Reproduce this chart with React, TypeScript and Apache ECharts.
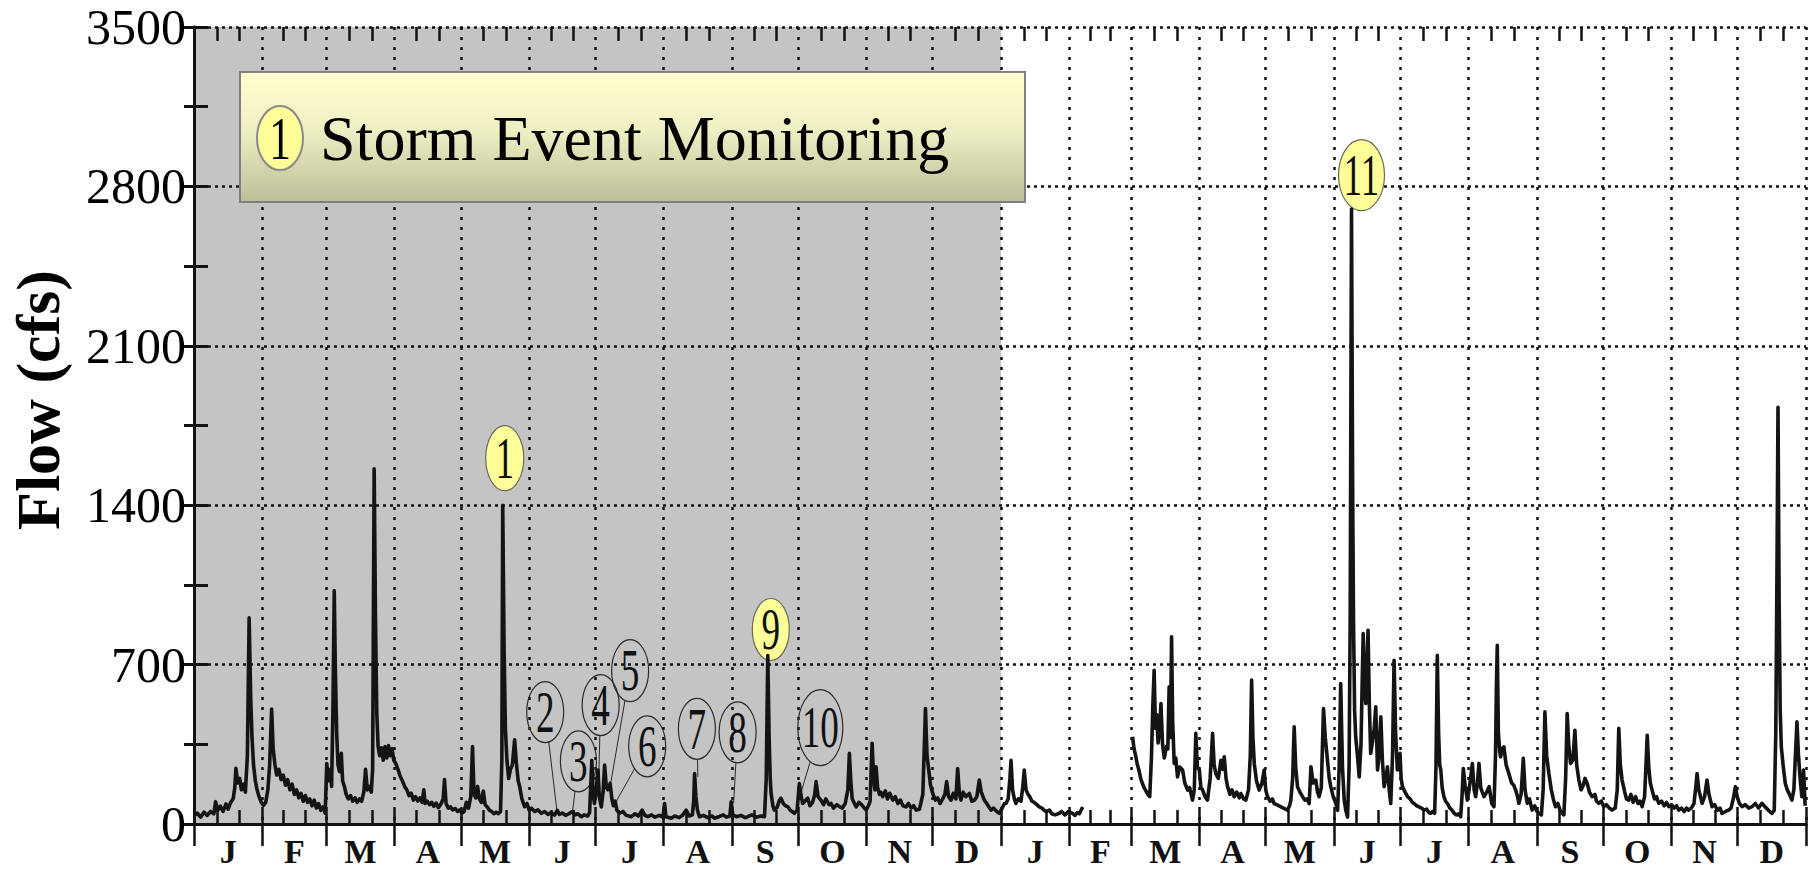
import React, { useEffect, useRef } from "react";
import * as echarts from "echarts";

// Daily flow record (day number from 1 January of the first year, flow in cfs)
const yearOneFlow: [number, number][] = [
  [0, 35], [1.5, 48], [3, 30], [4.5, 52], [6, 38], [7.5, 55], [9, 45], [9.8, 98], [10.8, 60], [12, 78],
  [13.2, 55], [14.5, 88], [15.5, 65], [16.5, 92], [17.8, 112], [18.5, 160], [19, 245], [19.8, 180], [20.7, 200],
  [21.5, 150], [22.5, 175], [23.3, 140], [24.2, 300], [25, 905], [25.7, 560], [26.3, 380], [27, 260], [27.8, 190],
  [28.6, 150], [29.5, 120], [30.5, 95], [31.5, 82], [32.5, 95], [33.5, 150], [34.3, 260], [35.2, 505], [35.9, 330],
  [36.7, 260], [37.5, 215], [38.5, 240], [39.5, 195], [40.5, 215], [41.5, 170], [42.5, 195], [43.5, 150], [44.5, 175],
  [45.5, 130], [46.5, 150], [47.5, 115], [48.5, 135], [49.5, 100], [50.5, 125], [51.5, 95], [52.5, 110], [53.5, 80],
  [54.5, 105], [55.5, 70], [56.5, 90], [57.5, 60], [58.5, 75], [59.5, 48], [60.2, 265], [61, 190], [61.8, 240],
  [62.4, 165], [63, 500], [63.6, 1025], [64.1, 680], [64.7, 400], [65.3, 260], [66, 230], [66.8, 310], [67.4, 190],
  [68.2, 165], [69, 130], [70, 110], [71, 125], [72, 100], [73, 115], [74, 95], [75, 110], [76, 100], [77, 140],
  [77.8, 240], [78.6, 150], [79.5, 165], [80.4, 140], [81, 240], [81.7, 1560], [82.3, 900], [82.9, 480], [83.5, 340],
  [84.2, 300], [85, 335], [85.8, 280], [86.6, 340], [87.4, 290], [88.2, 345], [89, 300], [89.8, 330], [90.6, 280],
  [91.5, 265], [92.5, 240], [93.5, 210], [94.5, 190], [95.5, 165], [96.5, 150], [97.5, 125], [98.5, 135], [99.5, 105],
  [100.5, 120], [101.5, 100], [102.5, 115], [103.5, 95], [104.2, 150], [104.8, 90], [105.8, 100], [106.8, 85],
  [107.8, 95], [108.8, 78], [109.8, 92], [110.8, 72], [111.8, 85], [113, 110], [113.6, 195], [114.3, 90], [115.3, 70],
  [116.3, 75], [117.3, 62], [118.5, 68], [119.5, 55], [120.5, 62], [121.5, 48], [122.5, 55], [123.5, 95], [124.5, 70],
  [125.5, 120], [126.3, 340], [127, 130], [127.8, 115], [128.6, 165], [129.4, 110], [130.3, 95], [131.2, 145],
  [132, 85], [133, 75], [134, 60], [135, 55], [136, 45], [137, 52], [138, 45], [139, 55], [139.6, 280], [140, 1400],
  [140.6, 780], [141.2, 420], [141.9, 280], [142.7, 200], [143.5, 240], [144.4, 260], [145.4, 370], [146.2, 266],
  [147, 190], [147.7, 164], [148.7, 110], [149.9, 76], [151, 90], [152, 61], [153, 70], [154.5, 55], [156, 62],
  [157.5, 47], [159, 55], [160.5, 42], [162, 50], [163.5, 39], [164.7, 60], [165.7, 42], [167, 48], [168.5, 38],
  [170, 45], [171.6, 55], [172.8, 40], [174, 45], [175.6, 32], [177, 40], [178.5, 35], [179.4, 50], [180.4, 280],
  [181, 130], [181.6, 90], [182.4, 150], [183.2, 237], [183.8, 120], [184.7, 75], [185.5, 140], [186.2, 259],
  [187, 160], [187.7, 150], [188.7, 178], [189.5, 110], [190.2, 80], [191, 100], [191.8, 60], [193, 47], [194.5, 55],
  [196, 38], [198.3, 32], [200, 45], [201.5, 35], [203.2, 61], [204.5, 38], [205.8, 32], [207.5, 40], [209, 30],
  [211, 38], [212.7, 30], [213.4, 90], [214, 32], [216.4, 25], [218, 35], [220, 28], [221.5, 38], [223.2, 61],
  [224.5, 35], [226, 40], [226.6, 100], [227, 222], [227.6, 120], [228.3, 60], [229.2, 32], [231, 38], [233, 28],
  [235, 35], [236, 25], [238, 32], [240, 40], [241.5, 30], [243, 35], [243.6, 98], [244.3, 40], [246, 32], [248, 38],
  [250, 28], [251.1, 32], [253, 40], [255, 30], [257, 35], [258.7, 32], [259.5, 200], [260.2, 740], [260.8, 380],
  [261.3, 200], [261.7, 134], [262.5, 80], [263.2, 61], [264.5, 75], [265.5, 105], [266.2, 113], [267.2, 90],
  [268.2, 80], [269.2, 76], [270.5, 60], [272.3, 47], [273.5, 60], [274.5, 178], [275.2, 130], [276, 90], [277, 100],
  [278.3, 113], [279.3, 80], [280.5, 95], [281.5, 130], [282.1, 186], [283, 120], [284.3, 105], [285.5, 85],
  [286.5, 110], [288, 85], [288.9, 90], [290, 70], [291.5, 85], [292.7, 76], [294, 70], [295.3, 90], [296.5, 150],
  [297.2, 310], [297.9, 180], [298.5, 110], [299.5, 90], [300.3, 75], [301.5, 95], [302.7, 85], [304, 70],
  [304.8, 61], [305.8, 80], [306.6, 100], [307.5, 354], [308.2, 200], [308.8, 150], [309.3, 251], [310, 160],
  [310.8, 130], [311.5, 140], [312.3, 120], [313.5, 145], [314.5, 110], [315.5, 135], [316.9, 105], [318, 120],
  [319.2, 90], [320.3, 105], [321.5, 80], [322.9, 75], [324, 90], [325.2, 70], [326.3, 80], [327.5, 61], [329, 65],
  [330.5, 130], [331.7, 507], [332.4, 300], [333.2, 237], [334, 170], [335, 134], [336.2, 105], [337.2, 115],
  [338.3, 90], [339.5, 110], [340.5, 130], [341.3, 186], [342.2, 120], [343.3, 105], [344.3, 135], [345.5, 110],
  [346.3, 244], [347.1, 130], [347.8, 105], [348.8, 140], [350, 120], [351.6, 134], [352.7, 100], [353.9, 105],
  [355, 120], [356.1, 193], [357, 140], [358.4, 105], [359.5, 90], [360.5, 75], [361.4, 61], [362.5, 70], [364, 55],
  [365.2, 47],
];

// Second year; the gauge record is missing for most of February
const yearTwoFlow: [number, number | string][] = [
  [366.5, 70], [367.5, 90], [368.2, 90], [369.2, 110], [370, 200], [370.5, 280], [371.2, 150], [372, 110],
  [372.7, 90], [373.8, 110], [375, 100], [375.8, 160], [376.5, 237], [377.3, 150], [378.2, 130], [379, 120],
  [380, 100], [381, 95], [382.2, 85], [383.3, 75], [384.5, 70], [385.5, 60], [386.7, 55], [387.9, 61], [389, 45],
  [390.5, 40], [392.4, 47], [393.5, 55], [395, 40], [396.5, 55], [398.4, 47], [399.5, 38], [400.5, 50], [401.5, 45],
  [403, 75], [414, "-"],
  [425.6, 383], [426.3, 330], [427, 300], [427.8, 260], [428.5, 237], [429.3, 200], [430, 180], [430.8, 160],
  [431.5, 149], [432.5, 130], [433.4, 120], [434.2, 300], [434.8, 520], [435.4, 675], [436, 420], [436.6, 480],
  [437.2, 356], [437.9, 420], [438.5, 529], [439.2, 350], [440, 290], [441, 340], [441.6, 330], [442.2, 602],
  [442.8, 380], [443.3, 822], [443.8, 450], [444.5, 266], [445.2, 290], [446, 207], [447, 250], [448.3, 237],
  [449.3, 180], [450.6, 149], [451.5, 160], [452.8, 105], [453.6, 150], [454.3, 398], [455, 250], [455.9, 237],
  [456.6, 160], [457.4, 149], [458.5, 120], [459.6, 105], [460.8, 200], [461.9, 398], [462.6, 260], [463.4, 220],
  [464.5, 200], [465.7, 280], [466.5, 240], [467.2, 295], [468, 200], [468.7, 164], [469.8, 130], [470.7, 150],
  [471.7, 120], [472.8, 140], [474, 115], [474.7, 134], [476, 110], [477, 105], [478.2, 150], [479, 300],
  [479.6, 632], [480.2, 380], [480.8, 266], [481.8, 190], [483, 149], [484.3, 180], [485.3, 237], [486, 150],
  [486.8, 120], [488, 100], [489, 110], [489.8, 90], [491, 85], [492, 80], [492.9, 75], [494, 70], [495, 65],
  [495.9, 61], [496.8, 80], [497.4, 105], [498.2, 200], [498.9, 427], [499.6, 250], [500.4, 164], [501.5, 140],
  [502.7, 120], [503.8, 105], [504.7, 110], [505.7, 90], [506.5, 251], [507.5, 180], [508.7, 193], [509.5, 140],
  [510.2, 120], [511.2, 160], [512.2, 507], [513, 380], [514, 280], [514.8, 200], [515.5, 164], [516.6, 120],
  [517.8, 90], [518.6, 60], [519.3, 250], [520, 617], [520.8, 250], [521.6, 105], [522.3, 60], [523.1, 30],
  [523.8, 250], [524.3, 900], [524.9, 2700], [525.4, 1500], [525.8, 900], [526.3, 500], [526.8, 383], [527.6, 300],
  [528.4, 207], [529.2, 350], [529.7, 600], [530.2, 836], [530.8, 600], [531.4, 529], [531.9, 700], [532.4, 851],
  [533, 520], [533.6, 310], [534.4, 360], [535.2, 420], [535.9, 515], [536.7, 237], [537.4, 300], [538.2, 471],
  [538.9, 280], [539.7, 164], [540.5, 200], [541.2, 251], [542, 150], [542.7, 90], [543.5, 300], [544.2, 719],
  [544.9, 400], [545.7, 237], [546.3, 260], [546.9, 310], [547.4, 200], [548, 164], [549.2, 140], [550.3, 120],
  [551.5, 110], [552.5, 95], [553.3, 90], [554.5, 80], [555.5, 75], [556.7, 70], [557.8, 61], [559, 65], [560, 50],
  [560.8, 47], [561.8, 55], [562.6, 47], [563.2, 250], [563.8, 741], [564.4, 400], [564.9, 260], [565.4, 237],
  [566, 160], [566.8, 120], [567.6, 100], [568.4, 90], [569.5, 70], [570.5, 60], [571.4, 47], [572.5, 40],
  [573.5, 45], [574.4, 32], [575, 120], [575.6, 244], [576.4, 170], [577.4, 105], [578.2, 150], [578.9, 200],
  [579.7, 266], [580.5, 150], [581.2, 120], [582, 180], [582.7, 266], [583.5, 160], [584.2, 140], [585, 120],
  [586.2, 140], [587.3, 164], [588.5, 90], [589.5, 76], [590.2, 300], [590.6, 600], [591, 785], [591.5, 400],
  [592.1, 320], [592.5, 295], [593.2, 330], [594, 339], [595, 260], [596.3, 220], [597.5, 180], [598.5, 170],
  [599.3, 150], [600.2, 120], [600.8, 91], [601.8, 130], [602.8, 288], [603.6, 150], [604.6, 91], [605.6, 110],
  [606.8, 61], [608, 80], [609, 55], [609.9, 47], [611, 40], [611.8, 150], [612.6, 493], [613.4, 300], [614.4, 222],
  [615.5, 150], [616.4, 110], [617.4, 76], [618.5, 90], [619.5, 60], [620.4, 47], [621.2, 40], [622, 200],
  [622.7, 485], [623.4, 350], [624.2, 266], [625.3, 280], [626.2, 412], [627, 260], [628, 193], [629, 150],
  [630, 170], [630.8, 200], [631.8, 178], [632.8, 140], [634, 120], [635.3, 130], [636, 100], [637, 91],
  [638.2, 100], [639.3, 76], [640.5, 85], [641.8, 70], [643.1, 61], [644.5, 70], [645.4, 150], [646.1, 420],
  [646.8, 260], [647.6, 193], [648.8, 140], [649.6, 110], [650.6, 105], [651.6, 130], [652.6, 95], [653.7, 120],
  [654.8, 90], [655.7, 100], [656.7, 76], [657.8, 120], [658.4, 250], [659, 390], [659.7, 250], [660.4, 180],
  [661.2, 149], [662.3, 110], [663.2, 120], [664.2, 91], [665.5, 100], [666.7, 80], [667.8, 95], [668.8, 76],
  [670, 85], [671.2, 70], [672.3, 80], [673.3, 61], [674.5, 70], [675.8, 55], [676.8, 70], [677.8, 61], [679, 70],
  [680.2, 90], [681, 160], [681.6, 222], [682.4, 150], [683.9, 91], [685, 120], [686.1, 193], [687, 130],
  [688.4, 76], [689.6, 85], [690.8, 60], [692, 70], [692.9, 47], [694.5, 55], [695.9, 61], [697, 70], [698, 110],
  [699, 164], [699.8, 120], [700.8, 90], [702, 76], [703.5, 85], [705, 70], [706.5, 76], [708, 90], [709.5, 70],
  [711, 91], [712.5, 75], [714, 60], [715.6, 47], [716.6, 60], [717.3, 400], [717.9, 1200], [718.3, 1830],
  [718.8, 1000], [719.3, 500], [719.8, 339], [720.6, 260], [721.6, 178], [722.5, 150], [723.5, 130], [724.6, 105],
  [725.5, 150], [726.2, 300], [726.9, 449], [727.6, 300], [728.4, 193], [729.1, 120], [729.9, 237], [730.6, 80],
];

// Calendar: first year is a leap year
const monthLetters = ["J", "F", "M", "A", "M", "J", "J", "A", "S", "O", "N", "D"];
const monthDays = [31, 29, 31, 30, 31, 30, 31, 31, 30, 31, 30, 31, 31, 28, 31, 30, 31, 30, 31, 31, 30, 31, 30, 31];
const totalDays = 731;
const firstYearDays = 366;

// Y axis
const flowMax = 3500;
const flowStep = 700;

// Numbered storm events: the day and flow they point at
const eventIds = ["1", "2", "3", "4", "5", "6", "7", "8", "9", "10", "11"];
const eventDay = [140, 164.7, 171.6, 183.5, 188.7, 191, 228.5, 244.7, 260.2, 275.4, 524.9];
const eventFlow = [1400, 48, 47, 193, 164, 91, 207, 91, 740, 142, 2700];
const eventMonitored = [true, false, false, false, false, false, false, false, true, false, true];

// Bubble placement relative to the event point (px) and bubble size (px)
const bubbleOffset = [
  [2, -47], [-12, -101], [6, -52], [2, -75], [20, -116], [32, -57], [-1, -48], [4, -71], [3, -26], [19, -64], [10, -34],
];
const bubbleSize = [
  [38, 65], [37, 61], [36, 61], [37, 61], [37, 62], [37, 61], [37, 61], [37, 61], [37, 62], [45, 76], [46, 71],
];

const SERIF = "'Liberation Serif', 'Times New Roman', serif";

function monthGeometry() {
  const bounds: number[] = [0];
  const centers: number[] = [];
  const thirds: number[] = [];
  let acc = 0;
  monthDays.forEach((len) => {
    centers.push(acc + len / 2);
    thirds.push(acc + len / 3, acc + (2 * len) / 3);
    acc += len;
    bounds.push(acc);
  });
  return { bounds, centers, thirds };
}

export default function App() {
  const ref = useRef<HTMLDivElement>(null);

  useEffect(() => {
    if (!ref.current) return;
    const chart = echarts.init(ref.current, undefined, { renderer: "svg" });
    const { bounds, centers, thirds } = monthGeometry();
    const allTicks = [...bounds, ...thirds].sort((a, b) => a - b);
    const letterFor = (v: number) => {
      const i = centers.findIndex((c) => Math.abs(c - v) < 0.01);
      return i >= 0 ? monthLetters[i % 12] : "";
    };

    const axisLine = { show: true, lineStyle: { color: "#111", width: 3 } };
    const dotted = { color: "#111", width: 2.5 };

    const option: any = {
      animation: false,
      backgroundColor: "#fff",
      grid: { left: 194, right: 10, top: 27, bottom: 48, containLabel: false },
      xAxis: [
        {
          type: "value", min: 0, max: totalDays, position: "bottom",
          axisLine,
          axisTick: { show: true, inside: true, length: 14, customValues: allTicks, lineStyle: { color: "#111", width: 2.5 } },
          axisLabel: {
            show: true, customValues: centers, formatter: (v: number) => letterFor(v),
            fontFamily: SERIF, fontWeight: "bold", fontSize: 34, color: "#111", margin: 10,
          },
          splitLine: { show: false },
        },
        {
          type: "value", min: 0, max: totalDays, position: "top",
          axisLine,
          axisTick: { show: true, inside: true, length: 22, customValues: bounds, lineStyle: { color: "#111", width: 2.5 } },
          axisLabel: { show: false },
          splitLine: { show: true, lineStyle: { ...dotted, type: [3, 7] } },
        },
        {
          type: "value", min: 0, max: totalDays, position: "top",
          axisLine: { show: false },
          axisTick: { show: true, inside: true, length: 14, customValues: thirds, lineStyle: { color: "#111", width: 2.5 } },
          axisLabel: { show: false },
          splitLine: { show: false },
        },
      ],
      yAxis: [
        {
          type: "value", min: 0, max: flowMax, interval: flowStep, position: "left",
          axisLine,
          axisTick: { show: true, inside: true, length: 14, lineStyle: { color: "#111", width: 3 } },
          minorTick: { show: true, splitNumber: 2, length: 14, lineStyle: { color: "#111", width: 3 } },
          axisLabel: {
            fontFamily: SERIF, fontSize: 50, color: "#000", margin: 8,
            formatter: (v: number) => String(v),
          },
          splitLine: { show: true, lineStyle: { ...dotted, type: [3, 4] } },
        },
        {
          type: "value", min: 0, max: flowMax, interval: flowStep, position: "right",
          axisLine,
          axisTick: { show: true, inside: true, length: 10, lineStyle: { color: "#111", width: 3 } },
          minorTick: { show: true, splitNumber: 2, length: 10, lineStyle: { color: "#111", width: 3 } },
          axisLabel: { show: false },
          splitLine: { show: false },
        },
      ],
      series: [
        {
          // first-year shading
          type: "custom", xAxisIndex: 0, yAxisIndex: 0, z: -1, silent: true,
          data: [[0, firstYearDays]],
          renderItem: (_p: any, api: any) => {
            const a = api.coord([api.value(0), flowMax]);
            const b = api.coord([api.value(1), 0]);
            return {
              type: "rect",
              shape: { x: a[0], y: a[1], width: b[0] - a[0], height: b[1] - a[1] },
              style: { fill: "#C4C4C4" },
            };
          },
        },
        {
          type: "custom", xAxisIndex: 0, yAxisIndex: 0, z: 1, silent: true, clip: false,
          data: eventDay.map((d, i) => [d, eventFlow[i]]),
          renderItem: (params: any, api: any) => {
            const i = params.dataIndex;
            const pt = api.coord([api.value(0), api.value(1)]);
            const cx = pt[0] + bubbleOffset[i][0];
            const cy = pt[1] + bubbleOffset[i][1];
            const rx = bubbleSize[i][0] / 2;
            const ry = bubbleSize[i][1] / 2;
            const monitored = eventMonitored[i];
            const children: any[] = [];
            if (!monitored) {
              const t = Math.atan2((pt[1] - cy) / ry, (pt[0] - cx) / rx);
              children.push({
                type: "line",
                shape: { x1: cx + rx * Math.cos(t), y1: cy + ry * Math.sin(t), x2: pt[0], y2: pt[1] },
                style: { stroke: "#2a2a2a", lineWidth: 1 },
              });
            }
            children.push({
              type: "ellipse",
              shape: { cx, cy, rx, ry },
              style: {
                fill: monitored ? "#FFFF99" : "rgba(0,0,0,0)",
                stroke: monitored ? "#6a6a5a" : "#2a2a2a",
                lineWidth: 1.2,
              },
            });
            children.push({
              type: "text", x: cx, y: cy, scaleX: 0.62,
              style: {
                text: eventIds[i], fontFamily: SERIF, fontSize: 60, fill: "#111",
                align: "center", verticalAlign: "middle",
              },
            });
            return { type: "group", children };
          },
        },
        {
          type: "line", xAxisIndex: 0, yAxisIndex: 0, z: 2,
          data: [...yearOneFlow, ...yearTwoFlow],
          showSymbol: false, silent: true, connectNulls: false,
          lineStyle: { color: "#141414", width: 3.6, join: "round" },
        },
      ],
      graphic: [
        {
          type: "text", x: 38, y: 400, rotation: Math.PI / 2, z: 10,
          style: {
            text: "Flow (cfs)", fontFamily: SERIF, fontWeight: "bold", fontSize: 62, fill: "#000",
            align: "center", verticalAlign: "middle",
          },
        },
        {
          type: "rect", z: 10,
          shape: { x: 240, y: 72, width: 785, height: 130 },
          style: {
            fill: new echarts.graphic.LinearGradient(0, 0, 0, 1, [
              { offset: 0, color: "#FFFFCF" },
              { offset: 0.45, color: "#EFEFC4" },
              { offset: 1, color: "#BDBD98" },
            ]),
            stroke: "#808080", lineWidth: 2,
          },
        },
        {
          type: "ellipse", z: 11,
          shape: { cx: 280, cy: 138, rx: 23, ry: 32 },
          style: { fill: "#FFFF99", stroke: "#888", lineWidth: 2 },
        },
        {
          type: "text", x: 280, y: 138, scaleX: 0.7, z: 12,
          style: { text: "1", fontFamily: SERIF, fontSize: 62, fill: "#000", align: "center", verticalAlign: "middle" },
        },
        {
          type: "text", x: 320, y: 138, z: 12,
          style: {
            text: "Storm Event Monitoring", fontFamily: SERIF, fontSize: 64, fill: "#000",
            align: "left", verticalAlign: "middle",
          },
        },
      ],
    };

    chart.setOption(option);
    return () => chart.dispose();
  }, []);

  return (
    <div
      ref={ref}
      style={{ position: "fixed", left: 0, top: 0, width: 1816, height: 872, background: "#fff" }}
    />
  );
}
